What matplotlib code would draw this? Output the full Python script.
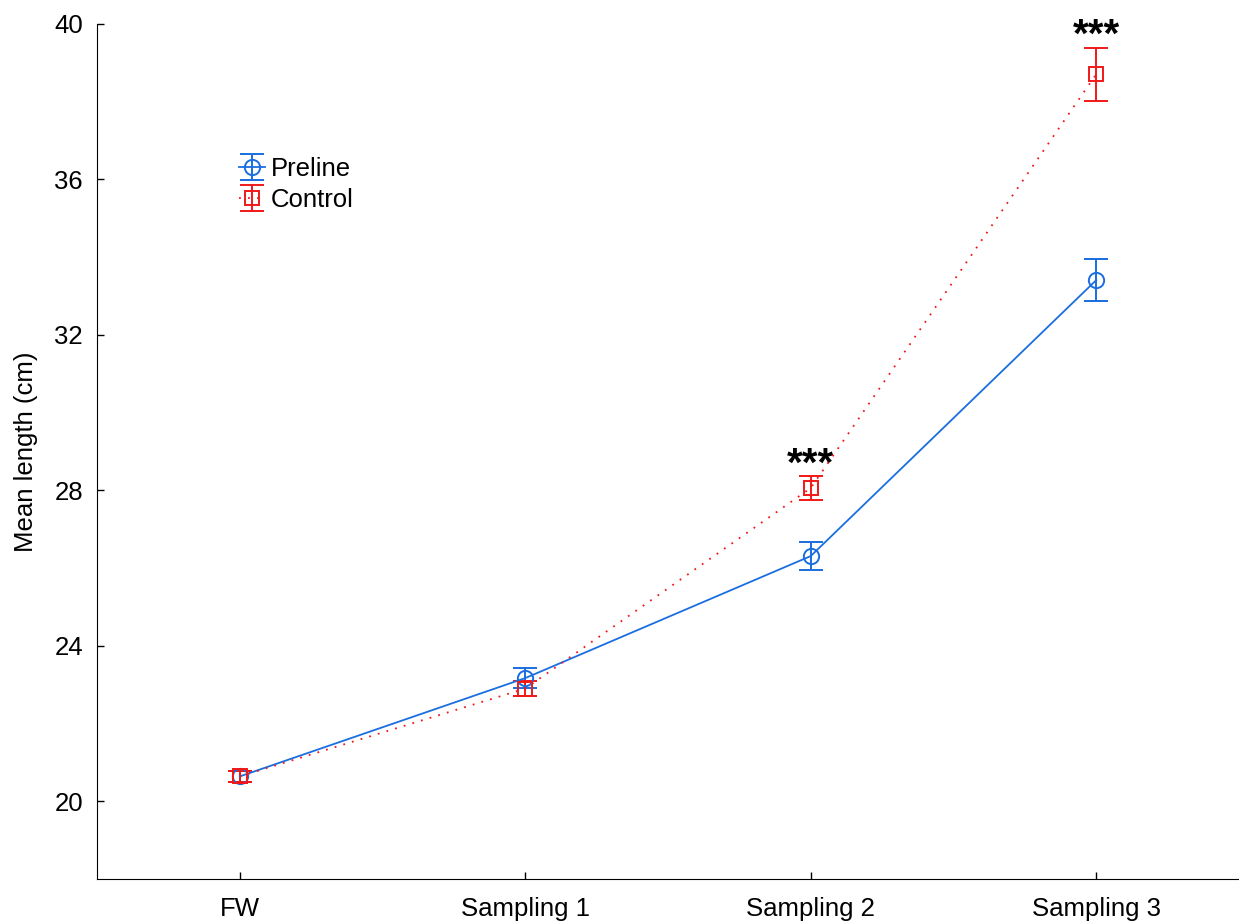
import matplotlib
matplotlib.use("Agg")
import matplotlib.pyplot as plt
import numpy as np

plt.rcParams['font.family'] = ['Liberation Sans', 'DejaVu Sans']

categories = ["FW", "Sampling 1", "Sampling 2", "Sampling 3"]
preline_mean = [20.64, 23.17, 26.31, 33.41]
preline_err = [0.15, 0.26, 0.35, 0.54]
control_mean = [20.64, 22.90, 28.06, 38.71]
control_err = [0.15, 0.19, 0.31, 0.68]
yticks = [20, 24, 28, 32, 36, 40]
sig_labels = ["", "", "***", "***"]

blue = '#1a6ee0'
red = '#f01818'
FS = 18.5

fig = plt.figure(figsize=(12.39, 9.22), dpi=100)
ax = fig.add_axes([0.0783, 0.0466, 0.9217, 0.9274])

x = np.arange(len(categories))
ax.errorbar(x, preline_mean, yerr=preline_err, color=blue, marker='o', ms=11,
            mfc='none', mec=blue, mew=1.4, lw=1.3, capsize=8.3, capthick=1.4,
            elinewidth=1.4, ls='-', label='Preline', zorder=3)
ax.errorbar(x, control_mean, yerr=control_err, color=red, marker='s', ms=10,
            mfc='none', mec=red, mew=1.4, lw=1.3, capsize=8.3, capthick=1.4,
            elinewidth=1.4, ls=(0, (1, 4)), label='Control', zorder=3)

for xi, m, e, s in zip(x, control_mean, control_err, sig_labels):
    if s:
        ax.annotate(s, xy=(xi, m + e), xytext=(0, 0.5), textcoords='offset points',
                    ha='center', va='baseline', fontsize=29, fontweight='bold')

ax.set_xlim(-0.5, 3.5)
ax.set_ylim(18, 40)
ax.set_xticks(x)
ax.set_xticklabels(categories)
ax.set_yticks(yticks)
ax.tick_params(axis='both', labelsize=FS, direction='in', length=5, width=1)
ax.tick_params(axis='y', pad=10)
ax.tick_params(axis='x', pad=13)
ax.set_ylabel('Mean length (cm)', fontsize=FS, labelpad=12)
for sp in ['top', 'right']:
    ax.spines[sp].set_visible(False)

leg = ax.legend(loc='upper left', bbox_to_anchor=(0.1929, 0.830),
                bbox_transform=fig.transFigure, frameon=False,
                fontsize=FS, handlelength=1.0, handletextpad=0.23,
                labelspacing=0.27, borderpad=0, borderaxespad=0)

fig.savefig('out.png', dpi=100)
